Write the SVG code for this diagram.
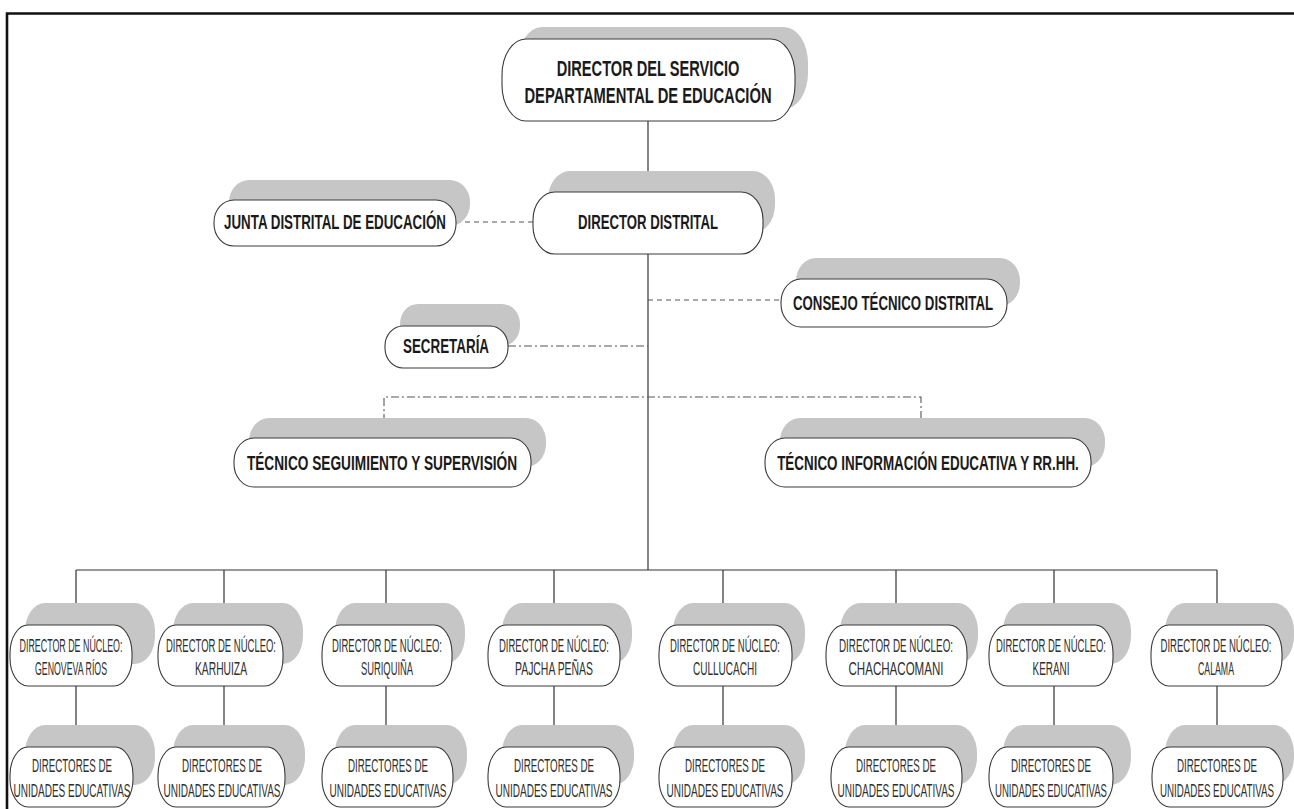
<svg xmlns="http://www.w3.org/2000/svg" width="1294" height="809" viewBox="0 0 1294 809">
<style>
.sh{fill:#c6c6c6;stroke:none}
.bx{fill:#fff;stroke:#3a3a3a;stroke-width:1.1}
.ln{stroke:#333;stroke-width:1.2;fill:none}
.da{stroke:#555;stroke-width:1.1;fill:none;stroke-dasharray:5 4}
.dd{stroke:#555;stroke-width:1.1;fill:none;stroke-dasharray:8 3 2 3}
.b{font-family:"Liberation Sans Narrow","Liberation Sans",Arial,sans-serif;font-weight:bold;fill:#1a1a1a;text-anchor:middle}
.n{font-family:"Liberation Sans Narrow","Liberation Sans",Arial,sans-serif;font-size:18.5px;fill:#2e2e2e;text-anchor:middle}
</style>
<rect x="0" y="0" width="1294" height="809" fill="#fff"/>
<path d="M7 809 V13.5 H1294" fill="none" stroke="#111" stroke-width="2.6"/>

<g id="connectors">
<line class="ln" x1="648" y1="121" x2="648" y2="192"/>
<line class="ln" x1="648" y1="254" x2="648" y2="570"/>
<line class="da" x1="456" y1="222" x2="533" y2="222"/>
<line class="da" x1="648" y1="300" x2="781" y2="300"/>
<line class="dd" x1="508" y1="346" x2="648" y2="346"/>
<path class="dd" d="M384 438 V397 H921 V438"/>
<line class="ln" x1="76" y1="570" x2="1217" y2="570"/>
<path class="ln" d="M76 570 V625 M224 570 V625 M386 570 V625 M554 570 V625 M723 570 V625 M896 570 V625 M1054 570 V625 M1217 570 V625"/>
<path class="ln" d="M76 686 V747 M224 686 V747 M386 686 V747 M554 686 V747 M723 686 V747 M896 686 V747 M1054 686 V747 M1217 686 V747"/>
</g>

<g id="n-top">
<rect class="sh" x="518" y="27" width="290" height="82" rx="24" ry="36"/>
<rect class="bx" x="502" y="39" width="293" height="82" rx="24" ry="36"/>
<text class="b" transform="translate(648 76) scale(0.7 1)" font-size="22" textLength="261" lengthAdjust="spacingAndGlyphs">DIRECTOR DEL SERVICIO</text>
<text class="b" transform="translate(648 103) scale(0.7 1)" font-size="22" textLength="353" lengthAdjust="spacingAndGlyphs">DEPARTAMENTAL DE EDUCACIÓN</text>
</g>

<g id="n-distrital">
<rect class="sh" x="548" y="171" width="227" height="62" rx="22" ry="28"/>
<rect class="bx" x="533" y="192" width="230" height="62" rx="22" ry="28"/>
<text class="b" transform="translate(648 229) scale(0.7 1)" font-size="20" textLength="200" lengthAdjust="spacingAndGlyphs">DIRECTOR DISTRITAL</text>
</g>

<g id="n-junta">
<rect class="sh" x="229" y="180" width="241" height="46" rx="20" ry="22"/>
<rect class="bx" x="214" y="200" width="242" height="46" rx="20" ry="22"/>
<text class="b" transform="translate(335 229) scale(0.7 1)" font-size="20" textLength="317" lengthAdjust="spacingAndGlyphs">JUNTA DISTRITAL DE EDUCACIÓN</text>
</g>

<g id="n-consejo">
<rect class="sh" x="796" y="258" width="224" height="48" rx="20" ry="23"/>
<rect class="bx" x="781" y="279" width="226" height="48" rx="20" ry="23"/>
<text class="b" transform="translate(893 310) scale(0.7 1)" font-size="20" textLength="286" lengthAdjust="spacingAndGlyphs">CONSEJO TÉCNICO DISTRITAL</text>
</g>

<g id="n-secretaria">
<rect class="sh" x="400" y="304" width="120" height="42" rx="18" ry="20"/>
<rect class="bx" x="385" y="326" width="123" height="42" rx="18" ry="20"/>
<text class="b" transform="translate(446 353) scale(0.7 1)" font-size="20" textLength="123" lengthAdjust="spacingAndGlyphs">SECRETARÍA</text>
</g>

<g id="n-tec-seg">
<rect class="sh" x="249" y="418" width="297" height="49" rx="20" ry="23"/>
<rect class="bx" x="234" y="438" width="297" height="49" rx="20" ry="23"/>
<text class="b" transform="translate(382 470) scale(0.7 1)" font-size="20" textLength="386" lengthAdjust="spacingAndGlyphs">TÉCNICO SEGUIMIENTO Y SUPERVISIÓN</text>
</g>

<g id="n-tec-inf">
<rect class="sh" x="780" y="418" width="325" height="49" rx="20" ry="23"/>
<rect class="bx" x="765" y="438" width="326" height="49" rx="20" ry="23"/>
<text class="b" transform="translate(928 470) scale(0.7 1)" font-size="20" textLength="431" lengthAdjust="spacingAndGlyphs">TÉCNICO INFORMACIÓN EDUCATIVA Y RR.HH.</text>
</g>

<g id="n-nuc-1">
<rect class="sh" x="25" y="603" width="130" height="61" rx="20" ry="28"/>
<rect class="bx" x="10" y="625" width="122" height="61" rx="18" ry="28"/>
<text class="n" transform="translate(71 652) scale(0.5 1)" textLength="206" lengthAdjust="spacingAndGlyphs">DIRECTOR DE NÚCLEO:</text>
<text class="n" transform="translate(71 675) scale(0.5 1)" textLength="144" lengthAdjust="spacingAndGlyphs">GENOVEVA RÍOS</text>
</g>
<g id="n-nuc-2">
<rect class="sh" x="173" y="603" width="130" height="61" rx="20" ry="28"/>
<rect class="bx" x="158" y="625" width="125" height="61" rx="18" ry="28"/>
<text class="n" transform="translate(221 652) scale(0.5 1)" textLength="220" lengthAdjust="spacingAndGlyphs">DIRECTOR DE NÚCLEO:</text>
<text class="n" transform="translate(221 675) scale(0.5 1)" textLength="104" lengthAdjust="spacingAndGlyphs">KARHUIZA</text>
</g>
<g id="n-nuc-3">
<rect class="sh" x="335" y="603" width="130" height="61" rx="20" ry="28"/>
<rect class="bx" x="322" y="625" width="130" height="61" rx="18" ry="28"/>
<text class="n" transform="translate(387 652) scale(0.5 1)" textLength="220" lengthAdjust="spacingAndGlyphs">DIRECTOR DE NÚCLEO:</text>
<text class="n" transform="translate(387 675) scale(0.5 1)" textLength="104" lengthAdjust="spacingAndGlyphs">SURIQUIÑA</text>
</g>
<g id="n-nuc-4">
<rect class="sh" x="502" y="603" width="130" height="61" rx="20" ry="28"/>
<rect class="bx" x="488" y="625" width="132" height="61" rx="18" ry="28"/>
<text class="n" transform="translate(554 652) scale(0.5 1)" textLength="220" lengthAdjust="spacingAndGlyphs">DIRECTOR DE NÚCLEO:</text>
<text class="n" transform="translate(554 675) scale(0.5 1)" textLength="156" lengthAdjust="spacingAndGlyphs">PAJCHA PEÑAS</text>
</g>
<g id="n-nuc-5">
<rect class="sh" x="673" y="603" width="132" height="61" rx="20" ry="28"/>
<rect class="bx" x="659" y="625" width="133" height="61" rx="18" ry="28"/>
<text class="n" transform="translate(725 652) scale(0.5 1)" textLength="220" lengthAdjust="spacingAndGlyphs">DIRECTOR DE NÚCLEO:</text>
<text class="n" transform="translate(725 675) scale(0.5 1)" textLength="128" lengthAdjust="spacingAndGlyphs">CULLUCACHI</text>
</g>
<g id="n-nuc-6">
<rect class="sh" x="840" y="603" width="138" height="61" rx="20" ry="28"/>
<rect class="bx" x="826" y="625" width="141" height="61" rx="18" ry="28"/>
<text class="n" transform="translate(896 652) scale(0.5 1)" textLength="228" lengthAdjust="spacingAndGlyphs">DIRECTOR DE NÚCLEO:</text>
<text class="n" transform="translate(896 675) scale(0.5 1)" textLength="190" lengthAdjust="spacingAndGlyphs">CHACHACOMANI</text>
</g>
<g id="n-nuc-7">
<rect class="sh" x="1003" y="603" width="128" height="61" rx="20" ry="28"/>
<rect class="bx" x="989" y="625" width="124" height="61" rx="18" ry="28"/>
<text class="n" transform="translate(1051 652) scale(0.5 1)" textLength="220" lengthAdjust="spacingAndGlyphs">DIRECTOR DE NÚCLEO:</text>
<text class="n" transform="translate(1051 675) scale(0.5 1)" textLength="74" lengthAdjust="spacingAndGlyphs">KERANI</text>
</g>
<g id="n-nuc-8">
<rect class="sh" x="1165" y="603" width="129" height="61" rx="20" ry="28"/>
<rect class="bx" x="1151" y="625" width="131" height="61" rx="18" ry="28"/>
<text class="n" transform="translate(1216 652) scale(0.5 1)" textLength="222" lengthAdjust="spacingAndGlyphs">DIRECTOR DE NÚCLEO:</text>
<text class="n" transform="translate(1216 675) scale(0.5 1)" textLength="72" lengthAdjust="spacingAndGlyphs">CALAMA</text>
</g>

<g id="n-ue-1">
<rect class="sh" x="25" y="725" width="130" height="60" rx="20" ry="28"/>
<rect class="bx" x="10" y="747" width="123" height="60" rx="18" ry="28"/>
<text class="n" transform="translate(72 772) scale(0.5 1)" textLength="160" lengthAdjust="spacingAndGlyphs">DIRECTORES DE</text>
<text class="n" transform="translate(72 797) scale(0.5 1)" textLength="234" lengthAdjust="spacingAndGlyphs">UNIDADES EDUCATIVAS</text>
</g>
<g id="n-ue-2">
<rect class="sh" x="173" y="725" width="132" height="60" rx="20" ry="28"/>
<rect class="bx" x="158" y="747" width="127" height="60" rx="18" ry="28"/>
<text class="n" transform="translate(222 772) scale(0.5 1)" textLength="160" lengthAdjust="spacingAndGlyphs">DIRECTORES DE</text>
<text class="n" transform="translate(222 797) scale(0.5 1)" textLength="234" lengthAdjust="spacingAndGlyphs">UNIDADES EDUCATIVAS</text>
</g>
<g id="n-ue-3">
<rect class="sh" x="335" y="725" width="132" height="60" rx="20" ry="28"/>
<rect class="bx" x="322" y="747" width="131" height="60" rx="18" ry="28"/>
<text class="n" transform="translate(388 772) scale(0.5 1)" textLength="160" lengthAdjust="spacingAndGlyphs">DIRECTORES DE</text>
<text class="n" transform="translate(388 797) scale(0.5 1)" textLength="234" lengthAdjust="spacingAndGlyphs">UNIDADES EDUCATIVAS</text>
</g>
<g id="n-ue-4">
<rect class="sh" x="502" y="725" width="132" height="60" rx="20" ry="28"/>
<rect class="bx" x="488" y="747" width="132" height="60" rx="18" ry="28"/>
<text class="n" transform="translate(554 772) scale(0.5 1)" textLength="160" lengthAdjust="spacingAndGlyphs">DIRECTORES DE</text>
<text class="n" transform="translate(554 797) scale(0.5 1)" textLength="234" lengthAdjust="spacingAndGlyphs">UNIDADES EDUCATIVAS</text>
</g>
<g id="n-ue-5">
<rect class="sh" x="673" y="725" width="132" height="60" rx="20" ry="28"/>
<rect class="bx" x="659" y="747" width="133" height="60" rx="18" ry="28"/>
<text class="n" transform="translate(725 772) scale(0.5 1)" textLength="160" lengthAdjust="spacingAndGlyphs">DIRECTORES DE</text>
<text class="n" transform="translate(725 797) scale(0.5 1)" textLength="234" lengthAdjust="spacingAndGlyphs">UNIDADES EDUCATIVAS</text>
</g>
<g id="n-ue-6">
<rect class="sh" x="845" y="725" width="132" height="60" rx="20" ry="28"/>
<rect class="bx" x="831" y="747" width="131" height="60" rx="18" ry="28"/>
<text class="n" transform="translate(896 772) scale(0.5 1)" textLength="160" lengthAdjust="spacingAndGlyphs">DIRECTORES DE</text>
<text class="n" transform="translate(896 797) scale(0.5 1)" textLength="234" lengthAdjust="spacingAndGlyphs">UNIDADES EDUCATIVAS</text>
</g>
<g id="n-ue-7">
<rect class="sh" x="1003" y="725" width="128" height="60" rx="20" ry="28"/>
<rect class="bx" x="989" y="747" width="124" height="60" rx="18" ry="28"/>
<text class="n" transform="translate(1051 772) scale(0.5 1)" textLength="160" lengthAdjust="spacingAndGlyphs">DIRECTORES DE</text>
<text class="n" transform="translate(1051 797) scale(0.5 1)" textLength="224" lengthAdjust="spacingAndGlyphs">UNIDADES EDUCATIVAS</text>
</g>
<g id="n-ue-8">
<rect class="sh" x="1165" y="725" width="129" height="60" rx="20" ry="28"/>
<rect class="bx" x="1152" y="747" width="131" height="60" rx="18" ry="28"/>
<text class="n" transform="translate(1217 772) scale(0.5 1)" textLength="160" lengthAdjust="spacingAndGlyphs">DIRECTORES DE</text>
<text class="n" transform="translate(1217 797) scale(0.5 1)" textLength="228" lengthAdjust="spacingAndGlyphs">UNIDADES EDUCATIVAS</text>
</g>
</svg>
